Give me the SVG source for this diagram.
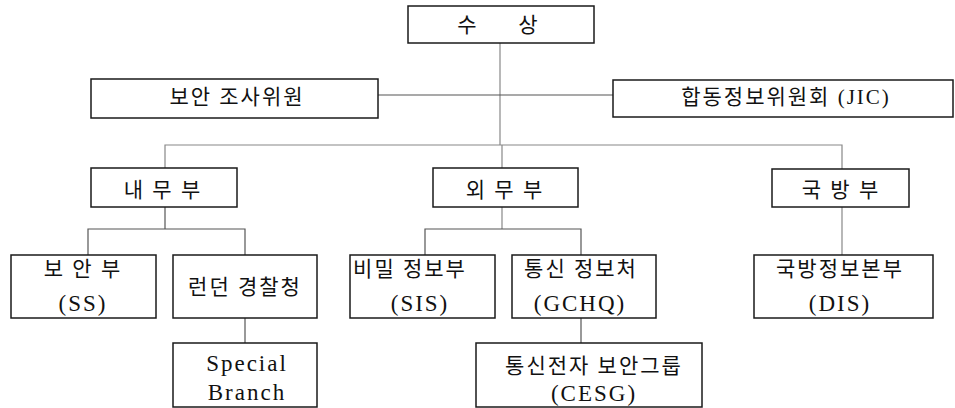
<svg xmlns="http://www.w3.org/2000/svg" width="955" height="408" viewBox="0 0 955 408">
<style>
.box{fill:#fff;stroke:#1a1a1a;stroke-width:1.5}
.ln{fill:none;stroke:#555;stroke-width:1.2}
.lt{fill:none;stroke:#888;stroke-width:1.2}
text{font-family:"Liberation Serif","Noto Sans CJK KR",serif;font-size:21px;fill:#111;text-anchor:middle}
.k{letter-spacing:2px}
.e{letter-spacing:2px;font-size:23px}
</style>
<rect width="955" height="408" fill="#fff"/>
<g id="connectors">
<line class="lt" x1="500" y1="43" x2="500" y2="145"/>
<line class="ln" x1="378" y1="95" x2="613" y2="95"/>
<polyline class="lt" points="165,168 165,145 842,145 842,169"/>
<line class="lt" x1="502" y1="145" x2="502" y2="168"/>
<polyline class="ln" points="165,207 165,229"/>
<polyline class="ln" points="88,255 88,229 245,229 245,255"/>
<polyline class="lt" points="502,207 502,229"/>
<polyline class="ln" points="425,255 425,229 581,229 581,255"/>
<line class="lt" x1="842" y1="207" x2="842" y2="255"/>
<line class="ln" x1="245" y1="318" x2="245" y2="343"/>
<line class="ln" x1="581" y1="318" x2="581" y2="343"/>
</g>
<g id="n-pm"><rect class="box" x="408" y="6" width="186" height="37"/><text y="32"><tspan x="467">수</tspan><tspan x="528">상</tspan></text></g>
<g id="n-security-comm"><rect class="box" x="91" y="79" width="287" height="39"/><text class="k" x="237" y="104">보안 조사위원</text></g>
<g id="n-jic"><rect class="box" x="613" y="80" width="340" height="37"/><text class="k" x="786" y="104">합동정보위원회 (JIC)</text></g>
<g id="n-home"><rect class="box" x="91" y="168" width="146" height="39"/><text class="k" x="163" y="197">내 무 부</text></g>
<g id="n-foreign"><rect class="box" x="433" y="168" width="145" height="39"/><text class="k" x="505" y="197">외 무 부</text></g>
<g id="n-defence"><rect class="box" x="772" y="169" width="137" height="38"/><text class="k" x="841" y="197">국 방 부</text></g>
<g id="n-ss"><rect class="box" x="11" y="255" width="145" height="63"/><text class="k" x="83" y="276">보 안 부</text><text class="e" x="83" y="311">(SS)</text></g>
<g id="n-met"><rect class="box" x="173" y="255" width="144" height="63"/><text class="k" x="245" y="294">런던 경찰청</text></g>
<g id="n-sis"><rect class="box" x="350" y="255" width="145" height="63"/><text class="k" x="410" y="276">비밀 정보부</text><text class="e" x="420" y="311">(SIS)</text></g>
<g id="n-gchq"><rect class="box" x="512" y="255" width="144" height="63"/><text class="k" x="581" y="276">통신 정보처</text><text class="e" x="580" y="311">(GCHQ)</text></g>
<g id="n-dis"><rect class="box" x="754" y="255" width="179" height="63"/><text class="k" x="840" y="276">국방정보본부</text><text class="e" x="840" y="311">(DIS)</text></g>
<g id="n-sb"><rect class="box" x="173" y="343" width="144" height="64"/><text class="e" x="247" y="371">Special</text><text class="e" x="247" y="400">Branch</text></g>
<g id="n-cesg"><rect class="box" x="476" y="343" width="226" height="64"/><text class="k" x="594" y="373">통신전자 보안그룹</text><text class="e" x="594" y="401">(CESG)</text></g>
</svg>
